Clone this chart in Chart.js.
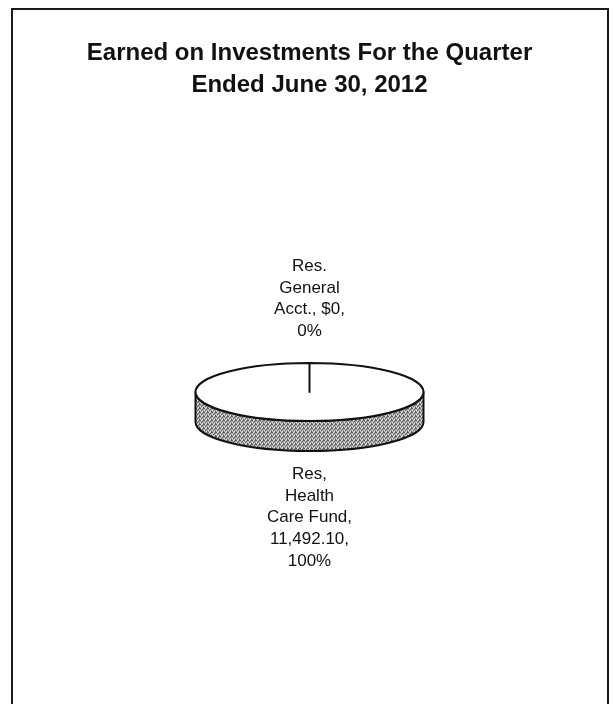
<!DOCTYPE html>
<html>
<head>
<meta charset="utf-8">
<script src="https://cdn.jsdelivr.net/npm/chart.js@4/dist/chart.umd.min.js"></script>
<style>
  html, body { margin: 0; padding: 0; background: #fff; }
  #wrap { position: relative; width: 614px; height: 704px; overflow: hidden; }
  #frame {
    position: absolute; left: 11px; top: 8px; width: 594px; height: 720px;
    border: 2px solid #1a1a1a; border-bottom: none; pointer-events: none;
  }
</style>
</head>
<body>
<div id="wrap">
  <canvas id="chart" width="614" height="704"></canvas>
  <div id="frame"></div>
</div>
<script>
const TITLE = ["Earned on Investments For the Quarter", "Ended June 30, 2012"];
const categoryLines = [["Res.", "General", "Acct.,"], ["Res,", "Health", "Care Fund,"]];
const values = [0, 11492.10];
const valueText = ["$0", "11,492.10"];
// Excel put the value on the same line as the name end for the first slice
const valueOnNameLine = [true, false];

const TILT = 0.255;   // ry / rx
const DEPTH = 30;     // side height in px

function sidePattern(ctx) {
  const c = document.createElement("canvas");
  c.width = 4; c.height = 4;
  const p = c.getContext("2d");
  p.fillStyle = "#b0b0b0";
  p.fillRect(0, 0, 4, 4);
  p.fillStyle = "#555";
  [[0, 0], [2, 1], [1, 2], [3, 3], [3, 0]].forEach(([x, y]) => p.fillRect(x, y, 1, 1));
  p.fillStyle = "#e6e6e6";
  [[2, 3], [0, 2], [1, 0]].forEach(([x, y]) => p.fillRect(x, y, 1, 1));
  return ctx.createPattern(c, "repeat");
}

function labelFor(i, total) {
  const pct = total ? Math.round((values[i] / total) * 100) + "%" : "0%";
  const lines = categoryLines[i].slice();
  if (valueOnNameLine[i]) lines[lines.length - 1] += " " + valueText[i] + ",";
  else lines.push(valueText[i] + ",");
  lines.push(pct);
  return lines;
}

const pie3d = {
  id: "pie3d",
  beforeDatasetsDraw(chart) {
    const ctx = chart.ctx;
    const arcs = chart.getDatasetMeta(0).data;
    if (!arcs.length) return false;
    const { x: cx, y: cy, outerRadius: rx } = arcs[0].getProps(["x", "y", "outerRadius"], true);
    const ry = rx * TILT;
    const total = values.reduce((s, v) => s + v, 0);

    ctx.save();
    ctx.lineWidth = 2;
    ctx.strokeStyle = "#111";
    ctx.lineJoin = "round";

    // side wall (front half only)
    const fill = sidePattern(ctx);
    arcs.forEach((arc) => {
      const { startAngle, endAngle } = arc.getProps(["startAngle", "endAngle"], true);
      for (let k = -1; k <= 1; k++) {
        const a = Math.max(startAngle, k * 2 * Math.PI);
        const b = Math.min(endAngle, k * 2 * Math.PI + Math.PI);
        if (b <= a) continue;
        ctx.beginPath();
        ctx.ellipse(cx, cy, rx, ry, 0, a, b);
        ctx.lineTo(cx + rx * Math.cos(b), cy + ry * Math.sin(b) + DEPTH);
        ctx.ellipse(cx, cy + DEPTH, rx, ry, 0, b, a, true);
        ctx.closePath();
        ctx.fillStyle = fill;
        ctx.fill();
        ctx.stroke();
      }
    });

    // top face
    arcs.forEach((arc) => {
      const { startAngle, endAngle } = arc.getProps(["startAngle", "endAngle"], true);
      ctx.beginPath();
      ctx.moveTo(cx, cy);
      ctx.ellipse(cx, cy, rx, ry, 0, startAngle, endAngle);
      ctx.closePath();
      ctx.fillStyle = "#ffffff";
      ctx.fill();
      ctx.stroke();
    });

    // data labels
    ctx.fillStyle = "#111";
    ctx.font = "17px 'Liberation Sans', Arial, sans-serif";
    ctx.textAlign = "center";
    ctx.textBaseline = "alphabetic";
    const lh = 21.7;
    arcs.forEach((arc, i) => {
      const { startAngle, endAngle } = arc.getProps(["startAngle", "endAngle"], true);
      const m = (startAngle + endAngle) / 2;
      const lines = labelFor(i, total);
      const px = cx + rx * Math.cos(m);
      if (Math.sin(m) < 0) {
        const edge = cy + ry * Math.sin(m);
        const last = edge - 27;
        lines.forEach((t, j) => ctx.fillText(t, px, last - (lines.length - 1 - j) * lh));
      } else {
        const edge = cy + ry * Math.sin(m) + DEPTH;
        const first = edge + 28;
        lines.forEach((t, j) => ctx.fillText(t, px, first + j * lh));
      }
    });
    ctx.restore();
    return false;
  },
};

new Chart(document.getElementById("chart"), {
  type: "pie",
  data: {
    labels: categoryLines.map((l) => l.join(" ")),
    datasets: [{ data: values, backgroundColor: "#fff", borderWidth: 0, hoverOffset: 0, radius: 114 }],
  },
  options: {
    responsive: false,
    animation: false,
    events: [],
    layout: { padding: { left: 5, right: 0, top: 0, bottom: 20.5 } },
    plugins: {
      legend: { display: false },
      tooltip: { enabled: false },
      title: {
        display: true,
        text: TITLE,
        color: "#111",
        font: { family: "'Liberation Sans', Arial, sans-serif", size: 24, weight: "bold", lineHeight: 1.3 },
        padding: { top: 38.1, bottom: 0 },
      },
    },
  },
  plugins: [pie3d],
});
</script>
</body>
</html>
